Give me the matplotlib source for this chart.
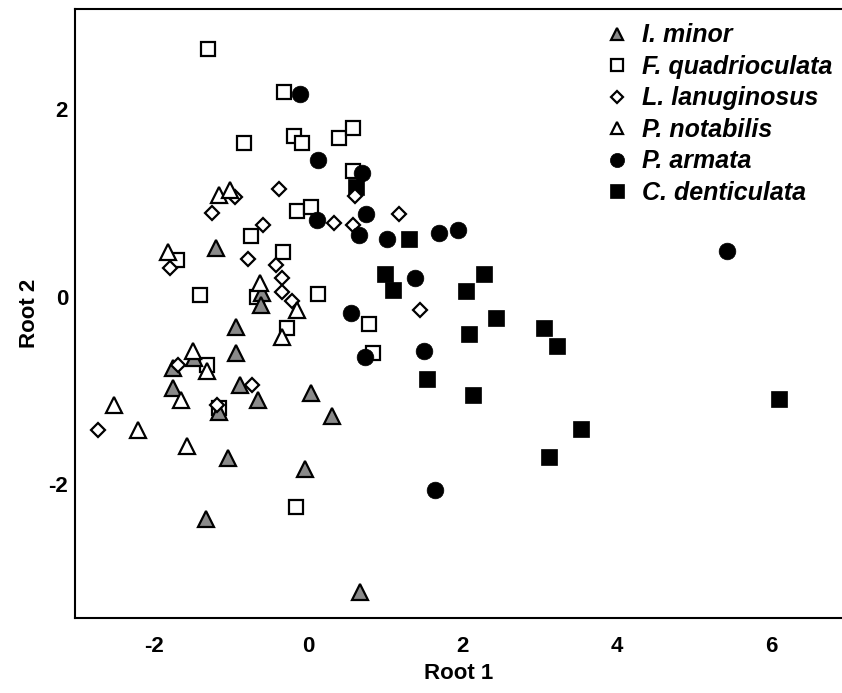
import matplotlib
matplotlib.use("Agg")
import matplotlib.pyplot as plt

# ---- data (Root 1, Root 2) ----
i_minor_x = [-1.20, -0.94, -0.94, -0.89, -0.66, -0.60, -0.62, 0.03, 0.30, -1.04, -0.05, -1.33, 0.67, -1.76, -1.76, -1.16, -1.48]
i_minor_y = [0.52, -0.32, -0.60, -0.94, -1.10, 0.04, -0.09, -1.03, -1.27, -1.72, -1.84, -2.37, -3.15, -0.76, -0.97, -1.23, -0.65]

f_quad_x = [-1.30, -0.32, -0.84, -0.19, -0.09, 0.40, 0.57, 0.58, -0.15, 0.03, -0.75, -0.33, -1.41, 0.12, -1.71, -0.67, -0.28, -1.32, -1.16, 0.78, 0.84, -0.16]
f_quad_y = [2.64, 2.18, 1.64, 1.71, 1.64, 1.69, 1.80, 1.34, 0.91, 0.96, 0.65, 0.48, 0.02, 0.03, 0.39, 0.00, -0.33, -0.73, -1.19, -0.29, -0.60, -2.24]

l_lan_x = [-0.39, -1.25, -0.95, -0.59, -0.78, -0.42, -0.35, -0.35, -0.21, -1.80, 0.33, 0.57, 0.60, 1.17, 1.44, -1.69, -0.73, -1.19, -2.73]
l_lan_y = [1.15, 0.89, 1.06, 0.76, 0.40, 0.34, 0.20, 0.05, -0.05, 0.31, 0.79, 0.76, 1.07, 0.88, -0.14, -0.73, -0.94, -1.16, -1.42]

p_not_x = [-1.16, -1.02, -1.82, -0.63, -0.15, -0.34, -1.50, -1.32, -1.65, -2.21, -1.58, -2.52]
p_not_y = [1.09, 1.14, 0.48, 0.15, -0.14, -0.43, -0.58, -0.79, -1.10, -1.42, -1.59, -1.16]

p_arm_x = [-0.11, 0.12, 0.69, 0.75, 0.11, 0.65, 1.02, 1.69, 1.94, 1.38, 0.55, 0.73, 1.50, 1.64, 5.43]
p_arm_y = [2.16, 1.46, 1.32, 0.88, 0.82, 0.66, 0.61, 0.68, 0.71, 0.20, -0.17, -0.64, -0.58, -2.06, 0.49]

c_den_x = [0.61, 1.30, 0.99, 1.09, 2.28, 2.04, 2.43, 2.08, 3.05, 3.22, 2.13, 3.53, 3.12, 6.10, 1.54]
c_den_y = [1.17, 0.61, 0.24, 0.07, 0.24, 0.06, -0.23, -0.40, -0.34, -0.53, -1.05, -1.41, -1.71, -1.09, -0.88]

labels = ["I. minor", "F. quadrioculata", "L. lanuginosus", "P. notabilis", "P. armata", "C. denticulata"]
x_ticks = [-2, 0, 2, 4, 6]
y_ticks = [-2, 0, 2]

plt.rcParams['font.family'] = ['Liberation Sans', 'DejaVu Sans']

fig = plt.figure(figsize=(8.42, 6.93), dpi=100)
W, H = 842, 693
ax = fig.add_axes([75 / W, (H - 618) / H, 1 - 75 / W, (618 - 9) / H])

ew = 1.6
h_quad, = ax.plot(f_quad_x, f_quad_y, ls='none', marker='s', ms=10.3, mfc='white', mec='black', mew=ew, zorder=2)
h_den, = ax.plot(c_den_x, c_den_y, ls='none', marker='s', ms=11.5, mfc='black', mec='black', mew=0.5, zorder=3)
h_min, = ax.plot(i_minor_x, i_minor_y, ls='none', marker='^', ms=11, mfc='#8a8a8a', mec='black', mew=ew, zorder=4)
h_lan, = ax.plot(l_lan_x, l_lan_y, ls='none', marker='D', ms=7.5, mfc='white', mec='black', mew=ew, zorder=5)
h_not, = ax.plot(p_not_x, p_not_y, ls='none', marker='^', ms=11, mfc='white', mec='black', mew=ew, zorder=6)
h_arm, = ax.plot(p_arm_x, p_arm_y, ls='none', marker='o', ms=12, mfc='black', mec='black', mew=0.5, zorder=7)

ax.set_xlim(-3.03, 6.92)
ax.set_ylim(-3.43, 3.07)
ax.set_xticks(x_ticks)
ax.set_yticks(y_ticks)
ax.set_xticklabels([str(t) for t in x_ticks])
ax.set_yticklabels([str(t) for t in y_ticks])
ax.tick_params(length=0, labelsize=16, pad=5)
ax.tick_params(axis='x', pad=13)
for lab in ax.get_xticklabels() + ax.get_yticklabels():
    lab.set_fontweight('bold')
for s in ['left', 'bottom', 'top']:
    ax.spines[s].set_linewidth(1.5)
ax.spines['right'].set_visible(False)

ax.set_xlabel("Root 1", fontsize=16, fontweight='bold', labelpad=4)
ax.set_ylabel("Root 2", fontsize=16, fontweight='bold', labelpad=6)

leg = ax.legend([h_min, h_quad, h_lan, h_not, h_arm, h_den], labels,
                loc='upper left', bbox_to_anchor=(593 / W, (H - 11) / H),
                bbox_transform=fig.transFigure, frameon=False,
                markerscale=0.85, handlelength=0.9, handletextpad=0.55,
                labelspacing=0.3, borderpad=0,
                prop={'size': 18, 'weight': 'bold', 'style': 'italic'})

fig.savefig("out.png", dpi=100)
